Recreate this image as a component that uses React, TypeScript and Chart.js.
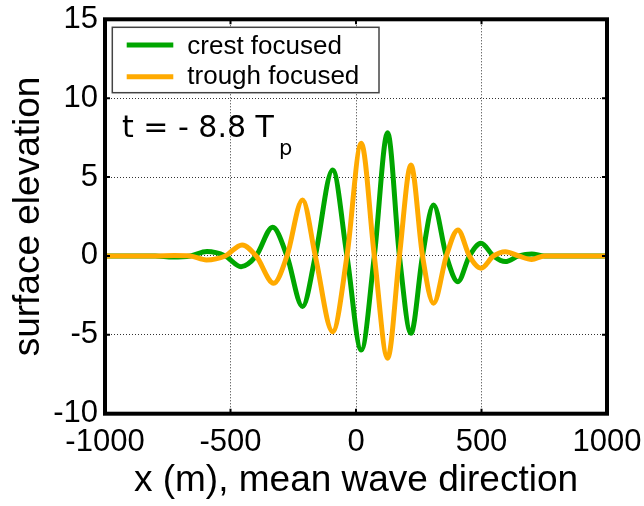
import React, { useEffect, useRef } from 'react';
import { Chart, registerables } from 'chart.js';

Chart.register(...registerables);

// ---- data ----
const xTicks = [-1000, -500, 0, 500, 1000];
const yTicks = [-10, -5, 0, 5, 10, 15];
const seriesLabels = ['crest focused', 'trough focused'];
const seriesColors = ['#00a600', '#ffaa00'];
const annotationMain = 't = - 8.8 T';
const annotationSub = 'p';
const xTitle = 'x (m), mean wave direction';
const yTitle = 'surface elevation';

const crestX = [-1000, -800, -730, -660, -594, -521, -458, -398, -332, -275, -213, -162, -93, -36, 21, 73, 126, 173, 219, 265, 309, 360, 406, 452, 498, 548, 595, 648, 700, 750, 850, 1000];
const crestY = [0, 0, -0.07, 0, 0.28, 0, -0.68, 0, 1.82, 0, -3.21, 0, 5.45, 0, -5.96, 0, 7.81, 0, -4.9, 0, 3.23, 0, -1.63, 0, 0.8, 0, -0.36, 0, 0.13, 0, 0, 0];

const troughX = [-1000, -800, -725, -660, -596, -521, -454, -398, -328, -275, -213, -162, -93, -36, 21, 73, 126, 173, 219, 265, 309, 360, 406, 452, 498, 548, 595, 648, 700, 750, 850, 1000];
const troughY = [0, 0, 0.03, 0, -0.25, 0, 0.7, 0, -1.73, 0, 3.55, 0, -4.8, 0, 7.14, 0, -6.48, 0, 5.77, 0, -3.0, 0, 1.65, 0, -0.78, 0, 0.27, 0, -0.22, 0, 0, 0];

const FONT = "'Liberation Sans', Arial, Helvetica, sans-serif";

const decorPlugin = {
  id: 'decor',
  afterDraw(chart: any) {
    const { ctx, chartArea: a, scales } = chart;
    const xs = scales.x;
    const ys = scales.y;
    ctx.save();
    // inward tick marks
    ctx.strokeStyle = '#000';
    ctx.lineWidth = 2;
    ctx.setLineDash([]);
    const tl = 5;
    xTicks.forEach((v) => {
      const px = xs.getPixelForValue(v);
      ctx.beginPath();
      ctx.moveTo(px, a.top);
      ctx.lineTo(px, a.top + tl);
      ctx.moveTo(px, a.bottom);
      ctx.lineTo(px, a.bottom - tl);
      ctx.stroke();
    });
    yTicks.forEach((v) => {
      const py = ys.getPixelForValue(v);
      ctx.beginPath();
      ctx.moveTo(a.left, py);
      ctx.lineTo(a.left + tl, py);
      ctx.moveTo(a.right, py);
      ctx.lineTo(a.right - tl, py);
      ctx.stroke();
    });
    // frame
    ctx.lineWidth = 4;
    ctx.strokeRect(a.left, a.top, a.right - a.left, a.bottom - a.top);

    // legend
    const lx = a.left + 7.3;
    const ly = a.top + 8;
    const lw = 266.7;
    const lh = 65.4;
    ctx.fillStyle = '#fff';
    ctx.fillRect(lx, ly, lw, lh);
    ctx.lineWidth = 1.5;
    ctx.strokeStyle = '#444';
    ctx.strokeRect(lx, ly, lw, lh);
    ctx.font = `26px ${FONT}`;
    ctx.textAlign = 'left';
    ctx.textBaseline = 'alphabetic';
    chart.data.datasets.forEach((ds: any, i: number) => {
      const cy = ly + 17.7 + i * 31.7;
      ctx.strokeStyle = ds.borderColor;
      ctx.lineWidth = 5;
      ctx.beginPath();
      ctx.moveTo(lx + 14.4, cy);
      ctx.lineTo(lx + 61, cy);
      ctx.stroke();
      ctx.fillStyle = '#000';
      ctx.fillText(ds.label, lx + 75, ly + 26.7 + i * 30);
    });

    // annotation
    ctx.fillStyle = '#000';
    ctx.font = `30px 'DejaVu Sans', sans-serif`;
    const ax = a.left + 17;
    const ay = a.top + 118;
    ctx.fillText(annotationMain, ax, ay);
    const w = ctx.measureText(annotationMain).width;
    ctx.font = `21px 'DejaVu Sans', sans-serif`;
    ctx.fillText(annotationSub, ax + w + 5, ay + 17.7);
    ctx.restore();
  },
};

export default function App() {
  const ref = useRef<HTMLCanvasElement | null>(null);

  useEffect(() => {
    if (!ref.current) return;
    const chart = new Chart(ref.current, {
      type: 'line',
      data: {
        datasets: [
          {
            label: seriesLabels[0],
            data: crestX.map((x, i) => ({ x, y: crestY[i] })),
            borderColor: seriesColors[0],
            backgroundColor: seriesColors[0],
            order: 1,
          },
          {
            label: seriesLabels[1],
            data: troughX.map((x, i) => ({ x, y: troughY[i] })),
            borderColor: seriesColors[1],
            backgroundColor: seriesColors[1],
            order: 0,
          },
        ],
      },
      options: {
        animation: false,
        responsive: false,
        devicePixelRatio: 1,
        layout: { padding: { left: 0, right: 37, top: 19.3, bottom: 0 } },
        plugins: { legend: { display: false }, tooltip: { enabled: false } },
        elements: {
          point: { radius: 0 },
          line: { borderWidth: 5, cubicInterpolationMode: 'monotone', fill: false },
        },
        scales: {
          x: {
            type: 'linear',
            min: -1000,
            max: 1000,
            afterBuildTicks: (s: any) => {
              s.ticks = xTicks.map((v) => ({ value: v }));
            },
            afterFit: (s: any) => {
              s.height = 92.3;
              s.paddingLeft = 0;
              s.paddingRight = 0;
            },
            ticks: {
              font: { family: FONT, size: 31 },
              color: '#000',
              padding: 10,
              maxRotation: 0,
              autoSkip: false,
              callback: (v: any) => String(v),
            },
            grid: { color: '#333', lineWidth: 1, drawTicks: false },
            border: { display: false, dash: [1, 2] },
            title: {
              display: true,
              text: xTitle,
              color: '#000',
              font: { family: FONT, size: 37 },
              padding: { top: 0, bottom: 3 },
            },
          },
          y: {
            type: 'linear',
            min: -10,
            max: 15,
            afterBuildTicks: (s: any) => {
              s.ticks = yTicks.map((v) => ({ value: v }));
            },
            afterFit: (s: any) => {
              s.width = 105;
              s.paddingTop = 0;
              s.paddingBottom = 0;
            },
            ticks: {
              font: { family: FONT, size: 31 },
              color: '#000',
              padding: 7,
              autoSkip: false,
              callback: (v: any) => String(v),
            },
            grid: { color: '#333', lineWidth: 1, drawTicks: false },
            border: { display: false, dash: [1, 2] },
            title: {
              display: true,
              text: yTitle,
              color: '#000',
              font: { family: FONT, size: 37 },
              padding: { top: 7, bottom: 0 },
            },
          },
        },
      },
      plugins: [decorPlugin],
    } as any);
    return () => chart.destroy();
  }, []);

  return (
    <div style={{ position: 'absolute', left: 0, top: 0, width: 644, height: 506, background: '#fff' }}>
      <canvas ref={ref} width={644} height={506} style={{ width: 644, height: 506, display: 'block' }} />
    </div>
  );
}
